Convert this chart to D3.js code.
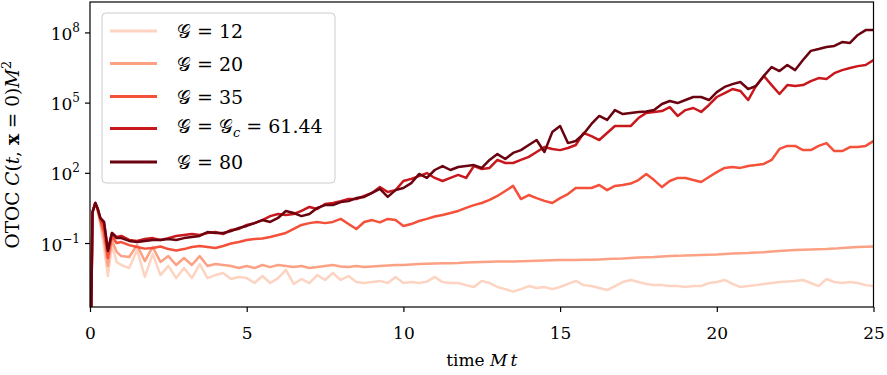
<!DOCTYPE html>
<html><head><meta charset="utf-8">
<script src="https://cdn.jsdelivr.net/npm/d3@7"></script>
<style>
html,body{margin:0;padding:0;background:#fff;}
svg{display:block;font-family:"DejaVu Serif",serif;}
</style></head>
<body>
<svg id="c" width="887" height="375"></svg>
<script>
// time grid (M t)
const time = [0,0.08,0.17,0.25,0.33,0.45,0.57,0.7,0.85,
1,1.25,1.5,1.75,2,2.25,2.5,2.75,3,3.25,3.5,3.75,4,4.25,4.5,4.75,
5,5.25,5.5,5.75,6,6.25,6.5,6.75,7,7.25,7.5,7.75,8,8.25,8.5,8.75,9,9.25,9.5,9.75,
10,10.25,10.5,10.75,11,11.25,11.5,11.75,12,12.25,12.5,12.75,13,13.25,13.5,13.75,14,14.25,14.5,14.75,
15,15.25,15.5,15.75,16,16.25,16.5,16.75,17,17.25,17.5,17.75,18,18.25,18.5,18.75,19,19.25,19.5,19.75,
20,20.25,20.5,20.75,21,21.25,21.5,21.75,22,22.25,22.5,22.75,23,23.25,23.5,23.75,24,24.25,24.5,24.75,25];

// log10 of OTOC C(t,x=0) M^2 for each coupling
const logC12 = [-8,0.32,0.71,0.32,-0.19,-1.21,-2.41,-1.09,-1.81,
-1.94,-2.07,-1.30,-2.45,-1.47,-2.37,-1.98,-2.50,-2.07,-2.50,-1.90,-2.50,-2.37,-2.28,-2.54,-2.45,
-2.50,-2.71,-2.41,-2.71,-2.50,-2.15,-2.75,-2.54,-2.71,-2.37,-2.58,-2.28,-2.58,-2.41,-2.67,-2.71,-2.67,-2.62,-2.71,-2.45,
-2.71,-2.67,-2.71,-2.65,-2.45,-2.67,-2.71,-2.71,-2.80,-2.88,-2.62,-2.71,-2.88,-2.97,-3.08,-2.97,-2.84,-2.92,-2.88,-2.97,
-2.88,-2.75,-2.62,-2.80,-2.84,-2.92,-3.01,-2.84,-2.67,-2.58,-2.67,-2.75,-2.80,-2.80,-2.84,-2.84,-2.88,-2.84,-2.84,-2.71,
-2.67,-2.58,-2.75,-2.88,-2.84,-2.80,-2.75,-2.71,-2.67,-2.65,-2.62,-2.58,-2.71,-2.84,-2.54,-2.67,-2.71,-2.67,-2.71,-2.80,-2.84];

const logC20 = [-8,0.32,0.71,0.37,-0.10,-0.87,-1.98,-0.87,-1.38,
-1.56,-1.60,-1.09,-1.77,-1.17,-1.81,-1.56,-1.94,-1.64,-1.94,-1.56,-1.98,-1.90,-1.94,-1.98,-2.07,
-1.98,-2.07,-1.94,-2.03,-1.94,-1.98,-2.03,-1.98,-2.07,-2.03,-1.98,-1.94,-2.00,-2.03,-1.98,-2.03,-2.00,-1.98,-1.96,-1.94,
-1.94,-1.92,-1.90,-1.89,-1.88,-1.87,-1.86,-1.85,-1.83,-1.82,-1.81,-1.80,-1.79,-1.79,-1.79,-1.78,-1.77,-1.76,-1.75,-1.74,
-1.73,-1.73,-1.73,-1.72,-1.72,-1.70,-1.68,-1.67,-1.66,-1.64,-1.62,-1.61,-1.60,-1.58,-1.56,-1.55,-1.53,-1.52,-1.51,-1.50,
-1.49,-1.47,-1.45,-1.44,-1.43,-1.41,-1.39,-1.36,-1.34,-1.32,-1.30,-1.29,-1.28,-1.27,-1.26,-1.24,-1.21,-1.19,-1.17,-1.16,-1.15];

const logC35 = [-8,0.32,0.71,0.41,-0.02,-0.53,-1.64,-0.70,-1.00,
-0.96,-1.09,-1.17,-1.24,-1.21,-1.15,-1.26,-1.32,-1.26,-1.17,-1.13,-1.17,-1.21,-1.13,-1.02,-0.96,
-0.87,-0.83,-0.81,-0.74,-0.66,-0.57,-0.40,-0.23,-0.15,-0.10,-0.15,-0.10,0.03,-0.19,-0.40,-0.10,-0.02,-0.12,0.03,-0.02,
-0.27,-0.19,-0.06,0.03,0.13,0.20,0.28,0.37,0.50,0.62,0.71,0.84,1.01,1.22,1.44,0.88,1.05,0.92,0.80,0.71,
0.92,1.09,1.35,1.35,1.35,1.48,1.26,1.44,1.48,1.54,1.69,1.95,1.69,1.39,1.65,1.78,1.78,1.69,1.61,1.82,
2.03,2.21,2.25,2.21,2.29,2.33,2.38,2.55,3.02,3.15,3.15,2.97,2.97,3.15,3.27,2.93,2.93,3.10,3.10,3.15,3.36];

const logC61 = [-8,0.32,0.71,0.45,0.07,-0.19,-1.30,-0.57,-0.74,
-0.70,-0.87,-0.91,-0.83,-0.79,-0.87,-0.79,-0.70,-0.66,-0.62,-0.66,-0.57,-0.53,-0.62,-0.44,-0.40,
-0.23,-0.15,-0.02,0.15,0.24,0.20,0.24,0.37,0.54,0.45,0.67,0.71,0.79,0.88,0.88,1.01,1.14,1.39,1.18,1.26,
1.65,1.74,1.86,1.99,1.78,1.65,1.78,1.91,1.78,2.29,2.16,2.21,2.55,2.42,2.42,2.55,2.68,2.89,3.10,3.02,
2.97,3.06,3.19,3.70,3.57,3.40,3.70,4.00,4.00,4.00,4.34,4.56,4.60,4.64,4.81,4.43,4.68,4.77,4.60,4.90,
5.24,5.41,5.58,5.50,5.11,5.71,6.14,5.75,5.37,5.75,5.71,5.75,5.92,6.05,6.01,6.26,6.39,6.48,6.56,6.61,6.82];

const logC80 = [-8,0.32,0.71,0.45,0.07,-0.10,-1.34,-0.57,-0.79,
-0.79,-0.91,-0.96,-0.91,-0.87,-0.87,-0.83,-0.87,-0.79,-0.74,-0.70,-0.53,-0.57,-0.57,-0.49,-0.36,
-0.27,-0.15,-0.02,-0.10,0.07,0.37,0.28,0.15,0.24,0.50,0.62,0.62,0.75,0.79,0.92,0.97,1.14,1.31,0.97,1.26,
1.35,1.56,1.95,1.78,2.12,2.29,2.12,2.25,2.29,2.33,2.21,2.55,2.80,2.59,2.85,2.97,3.19,3.40,2.89,3.74,
4.00,3.27,3.36,3.66,4.09,4.43,4.26,4.68,4.51,4.56,4.60,4.62,4.68,4.94,5.07,4.98,5.11,5.24,5.24,5.11,
5.45,5.67,5.79,5.88,5.58,5.71,6.14,6.52,6.35,6.61,6.39,6.82,7.21,7.29,7.38,7.42,7.59,7.55,7.89,8.10,8.10];

const couplings = ["12","20","35","61.44","80"];
const colors = ["#fdd3c1","#fca183","#f4503a","#c9181d","#6a020f"];
const xTicks = [0,5,10,15,20,25];
const yTickExps = [-1,2,5,8];

const seriesList = [logC12, logC20, logC35, logC61, logC80];
seriesList.forEach((s,i)=>{ if (s.length !== time.length) console.error("length mismatch", i, s.length, time.length); });

const svg = d3.select("#c");
const L = 90, R = 873.5, T = 2, B = 307;
const x = d3.scaleLinear().domain([0,25]).range([L,R]);
const y = d3.scaleLog().domain([Math.pow(10,-3.735), Math.pow(10,9.30)]).range([B,T]);

svg.append("defs").append("clipPath").attr("id","clip")
  .append("rect").attr("x",L).attr("y",T).attr("width",R-L).attr("height",B-T);

const line = d3.line().x((d,i)=>x(time[i])).y(d=>y(Math.pow(10,d)));

const g = svg.append("g").attr("clip-path","url(#clip)");
seriesList.forEach((s,i)=>{
  g.append("path").datum(s).attr("d",line)
   .attr("fill","none").attr("stroke",colors[i]).attr("stroke-width",2.5)
   .attr("stroke-linejoin","round").attr("stroke-linecap","round");
});

// axes
const xAxis = svg.append("g").attr("transform",`translate(0,${B})`)
  .call(d3.axisBottom(x).tickValues(xTicks).tickSize(5).tickSizeOuter(0).tickFormat(d3.format("d")));
xAxis.select(".domain").remove();
xAxis.selectAll("line").attr("stroke","#000").attr("stroke-width",1.2);
xAxis.selectAll("text").attr("font-size",17).attr("fill","#000").attr("font-family","DejaVu Serif")
  .attr("dy",null).attr("y",32);

const yAxis = svg.append("g").attr("transform",`translate(${L},0)`)
  .call(d3.axisLeft(y).tickValues(yTickExps.map(e=>Math.pow(10,e))).tickSize(5).tickSizeOuter(0).tickFormat(""));
yAxis.select(".domain").remove();
yAxis.selectAll("line").attr("stroke","#000").attr("stroke-width",1.2);
yAxis.selectAll(".tick").each(function(d,i){
  const t = d3.select(this).select("text");
  t.attr("x",-10).attr("dy",null).attr("y",7).attr("font-size",17).attr("fill","#000")
   .attr("text-anchor","end").attr("font-family","DejaVu Serif");
  t.append("tspan").text("10");
  const e = yTickExps[i];
  t.append("tspan").attr("dy",-8).attr("font-size",12).text(e<0 ? "\u2212"+(-e) : String(e));
});

// frame
svg.append("rect").attr("x",L).attr("y",T).attr("width",R-L).attr("height",B-T)
  .attr("fill","none").attr("stroke","#000").attr("stroke-width",1.2);

// axis labels
const xl = svg.append("text").attr("x",(L+R)/2).attr("y",366).attr("text-anchor","middle")
  .attr("font-size",17).attr("fill","#000");
xl.append("tspan").text("time ");
xl.append("tspan").attr("font-style","italic").text("M");
xl.append("tspan").attr("font-style","italic").attr("dx",3).text("t");

const yl = svg.append("text").attr("transform",`translate(19,${(T+B)/2}) rotate(-90)`)
  .attr("text-anchor","middle").attr("font-size",18.5).attr("fill","#000");
yl.append("tspan").text("OTOC ");
yl.append("tspan").attr("font-style","italic").text("C");
yl.append("tspan").text("(");
yl.append("tspan").attr("font-style","italic").text("t");
yl.append("tspan").text(", ");
yl.append("tspan").attr("font-weight","bold").text("x");
yl.append("tspan").text(" = 0)");
yl.append("tspan").attr("font-style","italic").text("M");
yl.append("tspan").attr("dy",-8).attr("font-size",13).text("2");

// legend
const leg = svg.append("g");
leg.append("rect").attr("x",102).attr("y",13).attr("width",233).attr("height",170).attr("rx",4)
  .attr("fill","#fff").attr("fill-opacity",0.8).attr("stroke","#cccccc").attr("stroke-width",1);
const rowY = [31,63.5,96.5,128.5,162];
const baseOff = [7,7,7,4,7];
couplings.forEach((c,i)=>{
  leg.append("line").attr("x1",110).attr("x2",157).attr("y1",rowY[i]).attr("y2",rowY[i])
    .attr("stroke",colors[i]).attr("stroke-width",2.8);
  const t = leg.append("text").attr("x",177).attr("y",rowY[i]+baseOff[i]).attr("font-size",19).attr("fill","#000");
  t.append("tspan").attr("font-family","DejaVu Sans, Noto Sans, serif").text("\u{1D4A2}");
  if (c === "61.44") {
    t.append("tspan").text(" = ");
    t.append("tspan").attr("font-family","DejaVu Sans, Noto Sans, serif").text("\u{1D4A2}");
    t.append("tspan").attr("font-style","italic").attr("font-size",13).attr("dy",4).text("c");
    t.append("tspan").attr("dy",-4).text(" = " + c);
  } else {
    t.append("tspan").text(" = " + c);
  }
});
</script>
</body></html>
